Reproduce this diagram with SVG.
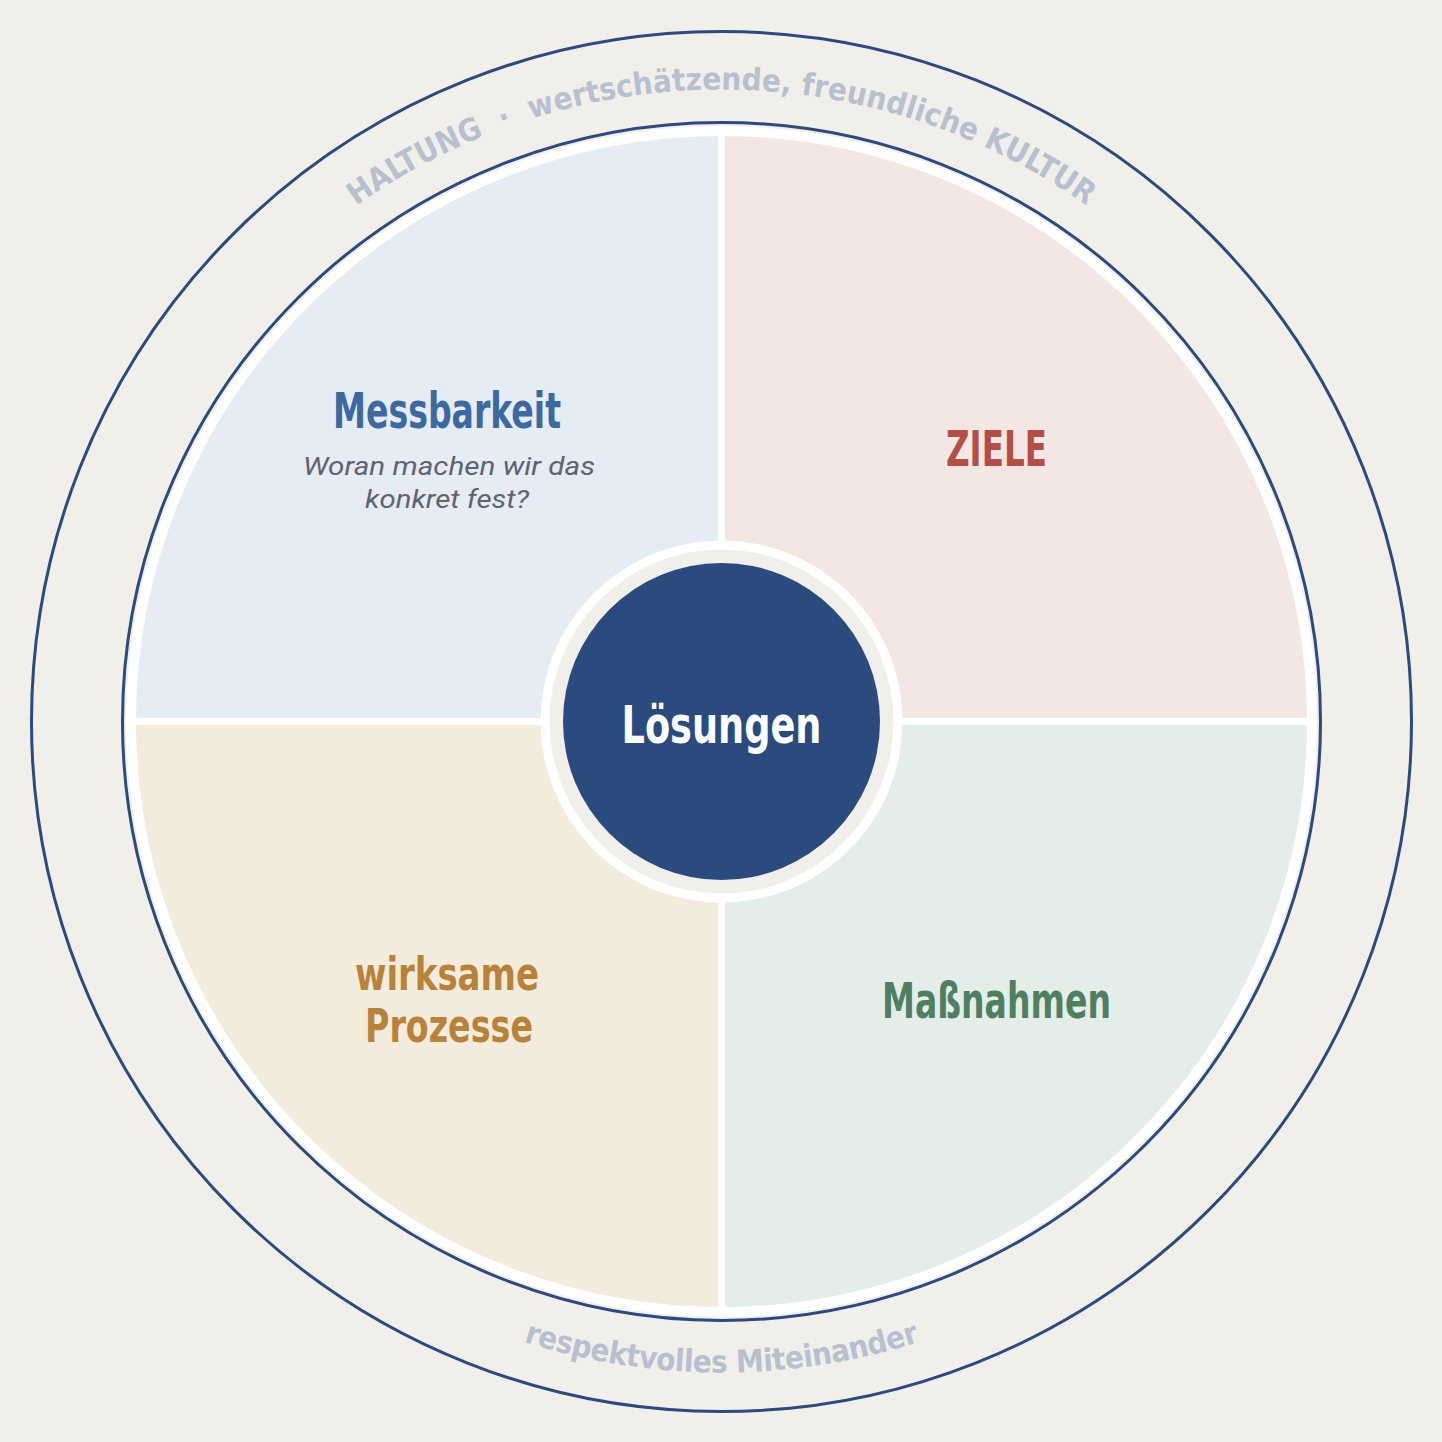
<svg xmlns="http://www.w3.org/2000/svg" width="1442" height="1442" viewBox="0 0 1442 1442">
<style>
.lbl{font-family:"Liberation Sans Narrow","DejaVu Sans Condensed","Liberation Sans",sans-serif;font-weight:bold;text-anchor:middle}
.sub{font-family:Roboto,"Liberation Sans",sans-serif;font-style:italic;font-size:26px;fill:#5d646e;text-anchor:middle}
.arc{font-family:"Liberation Sans Narrow","DejaVu Sans Condensed","Liberation Sans",sans-serif;font-weight:bold;font-size:31px;fill:#b7c0cf}
.wedge{stroke:#ffffff;stroke-width:7}
</style>
<defs>
<path id="topArc" d="M 89.5 721.5 A 632 632 0 0 1 1353.5 721.5"/>
<path id="botArc" d="M 70.5 721.5 A 651 651 0 0 0 1372.5 721.5"/>
</defs>
<rect x="0" y="0" width="1442" height="1442" fill="#f0efea"/>
<g id="ring">
<circle cx="721.5" cy="721.5" r="690" fill="none" stroke="#2b4a7e" stroke-width="3"/>
<circle cx="721.5" cy="721.5" r="599" fill="none" stroke="#2b4a7e" stroke-width="3"/>
<circle cx="721.5" cy="721.5" r="595.5" fill="#ffffff"/>
<text class="arc" letter-spacing="0.1"><textPath href="#topArc" startOffset="50%" text-anchor="middle">HALTUNG&#160;&#160;·&#160;&#160;wertschätzende, freundliche KULTUR</textPath></text>
<text class="arc" letter-spacing="-0.4"><textPath href="#botArc" startOffset="50%" text-anchor="middle">respektvolles Miteinander</textPath></text>
</g>
<g id="messbarkeit">
<path class="wedge" d="M 721.5 721.5 L 132.5 721.5 A 589 589 0 0 1 721.5 132.5 Z" fill="#e5ecf3"/>
<text class="lbl" x="447" y="428" font-size="50" fill="#3d68a0" textLength="228" lengthAdjust="spacingAndGlyphs">Messbarkeit</text>
<text class="sub" x="449" y="475" textLength="292" lengthAdjust="spacingAndGlyphs">Woran machen wir das</text>
<text class="sub" x="447" y="508" textLength="164" lengthAdjust="spacingAndGlyphs">konkret fest?</text>
</g>
<g id="ziele">
<path class="wedge" d="M 721.5 721.5 L 721.5 132.5 A 589 589 0 0 1 1310.5 721.5 Z" fill="#f4e6e3"/>
<text class="lbl" x="996.5" y="466" font-size="50" fill="#b24f47" textLength="101" lengthAdjust="spacingAndGlyphs">ZIELE</text>
</g>
<g id="massnahmen">
<path class="wedge" d="M 721.5 721.5 L 1310.5 721.5 A 589 589 0 0 1 721.5 1310.5 Z" fill="#e5ede8"/>
<text class="lbl" x="996.5" y="1018" font-size="50" fill="#4e7f60" textLength="229" lengthAdjust="spacingAndGlyphs">Maßnahmen</text>
</g>
<g id="prozesse">
<path class="wedge" d="M 721.5 721.5 L 721.5 1310.5 A 589 589 0 0 1 132.5 721.5 Z" fill="#f3ecdd"/>
<text class="lbl" x="447" y="990" font-size="46" fill="#b8823a" textLength="184" lengthAdjust="spacingAndGlyphs">wirksame</text>
<text class="lbl" x="449" y="1042" font-size="46" fill="#b8823a" textLength="168" lengthAdjust="spacingAndGlyphs">Prozesse</text>
</g>
<g id="loesungen">
<circle cx="721.5" cy="721.5" r="181" fill="#ffffff"/>
<circle cx="721.5" cy="721.5" r="172" fill="#f0efea"/>
<circle cx="721.5" cy="721.5" r="158.5" fill="#2b4a7e"/>
<text class="lbl" x="721.5" y="743" font-size="52" fill="#ffffff" textLength="200" lengthAdjust="spacingAndGlyphs">Lösungen</text>
</g>
</svg>
